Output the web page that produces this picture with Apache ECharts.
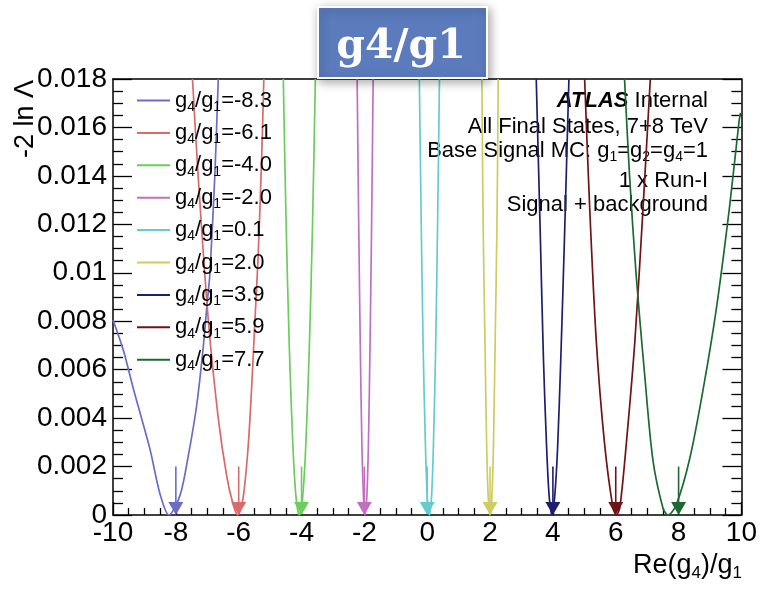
<!DOCTYPE html>
<html>
<head>
<meta charset="utf-8">
<script src="https://cdn.jsdelivr.net/npm/echarts@6/dist/echarts.min.js"></script>
<style>
  html, body { margin: 0; padding: 0; background: #fff; }
  #chart { width: 760px; height: 595px; }
</style>
</head>
<body>
<div id="chart"></div>
<script>
// Fitted g4/g1 values shown in the legend, and the injected (true) values marked by arrows
const fitLabels = ['-8.3', '-6.1', '-4.0', '-2.0', '0.1', '2.0', '3.9', '5.9', '7.7'];
const trueValues = [-8, -6, -4, -2, 0, 2, 4, 6, 8];
const arrowLength = 0.002;

// Likelihood scans: [Re(g4)/g1, -2 ln Λ]
const scanM83 = [[-10, 0.00805], [-9.67, 0.0068], [-9.35, 0.0052], [-8.82, 0.0027], [-8.51, 0.0009], [-8.22, 0],
  [-7.87, 0.0008], [-7.61, 0.0024], [-7.34, 0.0045], [-7.13, 0.0069], [-7.0, 0.0088], [-6.92, 0.0099],
  [-6.76, 0.014], [-6.65, 0.018]];
const scanM61 = [[-7.47, 0.018], [-7.29, 0.014], [-6.97, 0.0081], [-6.65, 0.004], [-6.38, 0.0016], [-6.17, 0.0004],
  [-6.03, 0], [-5.86, 0.0007], [-5.7, 0.0028], [-5.59, 0.0052], [-5.48, 0.0081], [-5.38, 0.0107],
  [-5.27, 0.0147], [-5.2, 0.018]];
const scanM40 = [[-4.58, 0.018], [-4.49, 0.012], [-4.39, 0.007], [-4.28, 0.003], [-4.18, 0.0008], [-4.07, 0],
  [-3.96, 0.0008], [-3.86, 0.003], [-3.75, 0.007], [-3.65, 0.012], [-3.56, 0.018]];
const scanM20 = [[-2.23, 0.018], [-2.18, 0.012], [-2.13, 0.007], [-2.08, 0.003], [-2.03, 0.0008], [-1.98, 0],
  [-1.92, 0.0008], [-1.87, 0.003], [-1.82, 0.007], [-1.77, 0.012], [-1.72, 0.018]];
const scanP01 = [[-0.25, 0.018], [-0.19, 0.012], [-0.13, 0.007], [-0.06, 0.003], [0.0, 0.0008], [0.07, 0],
  [0.14, 0.0008], [0.2, 0.003], [0.27, 0.007], [0.33, 0.012], [0.39, 0.018]];
const scanP20 = [[1.74, 0.018], [1.78, 0.012], [1.84, 0.007], [1.89, 0.003], [1.94, 0.0008], [2.0, 0],
  [2.06, 0.0008], [2.11, 0.003], [2.16, 0.007], [2.22, 0.012], [2.26, 0.018]];
const scanP39 = [[3.47, 0.018], [3.6, 0.0115], [3.7, 0.0064], [3.8, 0.0028], [3.88, 0.0008], [3.97, 0],
  [4.06, 0.0008], [4.15, 0.0028], [4.25, 0.0064], [4.37, 0.0115], [4.51, 0.018]];
const scanP59 = [[5.01, 0.018], [5.17, 0.0127], [5.38, 0.0072], [5.64, 0.003], [5.91, 0.0003], [6.02, 0],
  [6.13, 0.0003], [6.34, 0.003], [6.61, 0.0072], [6.87, 0.0127], [7.1, 0.018]];
const scanP77 = [[6.28, 0.018], [6.44, 0.014], [6.65, 0.0099], [6.92, 0.0058], [7.18, 0.0023], [7.5, 0.0003],
  [7.66, 0], [7.92, 0.0004], [8.35, 0.0023], [8.77, 0.0051], [9.2, 0.0085], [9.62, 0.0127],
  [9.92, 0.0162], [9.97, 0.0166]];

const scans = [scanM83, scanM61, scanM40, scanM20, scanP01, scanP20, scanP39, scanP59, scanP77];

// Line colours, one per scan
const palette = ['#6c6cc6', '#d86a6a', '#6ccc5e', '#c070c0', '#64cccc', '#cccc60', '#1e1e6e', '#6e1414', '#1c6a32'];

const FONT = '"Liberation Sans", Arial, Helvetica, sans-serif';
const HEAD_LEN = 13;   // arrow head length, px
const HEAD_HALF = 7.5; // arrow head half width, px

const names = fitLabels.map(v => 'g4/g1=' + v);

const lineSeries = scans.map((scan, i) => ({
  name: names[i],
  type: 'line',
  data: scan,
  smooth: 0.3,
  symbol: 'none',
  lineStyle: { color: palette[i], width: 1.7 },
  itemStyle: { color: palette[i] },
  z: 3
}));

const arrowSeries = trueValues.map((tv, i) => ({
  name: 'arrow' + i,
  type: 'custom',
  data: [[tv, arrowLength]],
  itemStyle: { color: palette[i] },
  clip: false,
  z: 4,
  renderItem: (params, api) => {
    const tip = api.coord([api.value(0), 0]);
    const tail = api.coord([api.value(0), api.value(1)]);
    const color = api.visual('color');
    return {
      type: 'group',
      children: [
        { type: 'line',
          shape: { x1: tail[0], y1: tail[1], x2: tip[0], y2: tip[1] - HEAD_LEN + 1 },
          style: { stroke: color, lineWidth: 1.6 } },
        { type: 'polygon',
          shape: { points: [[tip[0] - HEAD_HALF, tip[1] - HEAD_LEN], [tip[0] + HEAD_HALF, tip[1] - HEAD_LEN], [tip[0], tip[1]]] },
          style: { fill: color } }
      ]
    };
  }
}));

const subStyle = { fontSize: 14, fontFamily: FONT, color: '#000', padding: [13, 0, 0, 0], lineHeight: 22 };

const chart = echarts.init(document.getElementById('chart'), null, { renderer: 'canvas' });

chart.setOption({
  backgroundColor: '#fff',
  animation: false,
  grid: { left: 113, right: 18, top: 79, bottom: 80 },
  xAxis: [{
    type: 'value', min: -10, max: 10, interval: 2, position: 'bottom',
    axisLine: { show: true, onZero: false, lineStyle: { color: '#000', width: 1.5 } },
    axisTick: { show: true, inside: true, length: 13, lineStyle: { color: '#000', width: 1.3 } },
    minorTick: { show: true, splitNumber: 4, length: 7, lineStyle: { color: '#000', width: 1.3 } },
    splitLine: { show: false },
    axisLabel: { color: '#000', fontSize: 28, fontFamily: FONT, margin: 4 }
  }, {
    type: 'value', min: -10, max: 10, interval: 2, position: 'top',
    axisLine: { show: true, onZero: false, lineStyle: { color: '#000', width: 1.5 } },
    axisTick: { show: false }, axisLabel: { show: false }, splitLine: { show: false }
  }],
  yAxis: [{
    type: 'value', min: 0, max: 0.018, interval: 0.002, position: 'left',
    axisLine: { show: true, onZero: false, lineStyle: { color: '#000', width: 1.5 } },
    axisTick: { show: true, inside: true, length: 19, lineStyle: { color: '#000', width: 1.3 } },
    minorTick: { show: true, splitNumber: 4, length: 10, lineStyle: { color: '#000', width: 1.3 } },
    splitLine: { show: false },
    axisLabel: { color: '#000', fontSize: 28, fontFamily: FONT, margin: 6 }
  }, {
    type: 'value', min: 0, max: 0.018, interval: 0.002, position: 'right',
    axisLine: { show: true, onZero: false, lineStyle: { color: '#000', width: 1.5 } },
    axisTick: { show: true, inside: true, length: 19, lineStyle: { color: '#000', width: 1.3 } },
    minorTick: { show: true, splitNumber: 4, length: 10, lineStyle: { color: '#000', width: 1.3 } },
    splitLine: { show: false },
    axisLabel: { show: false }
  }],
  legend: {
    data: names.map(n => ({ name: n, icon: 'rect' })),
    orient: 'vertical',
    left: 137, top: 87,
    itemWidth: 33, itemHeight: 2, itemGap: 5.4,
    selectedMode: false,
    padding: 0,
    formatter: name => 'g{s|4}/g{s|1}=' + name.split('=')[1],
    textStyle: {
      fontSize: 22, fontFamily: FONT, color: '#000', lineHeight: 22,
      rich: { s: subStyle }
    }
  },
  graphic: [
    // header box
    { type: 'rect', left: 317, top: 6, z: 10,
      shape: { width: 169, height: 71 },
      style: { fill: '#5b7bbd', stroke: '#fff', lineWidth: 2,
        shadowBlur: 10, shadowColor: 'rgba(0,0,0,0.35)', shadowOffsetX: 2, shadowOffsetY: 3 } },
    { type: 'text', x: 401, y: 47, z: 11,
      style: { text: 'g4/g1', fill: '#fff', fontSize: 41, fontWeight: 'bold', fontFamily: '"DejaVu Serif", serif',
        align: 'center', verticalAlign: 'middle' } },
    // axis titles
    { type: 'text', x: 26, y: 80, rotation: Math.PI / 2,
      style: { text: '-2 ln Λ', fill: '#000', fontSize: 27, fontFamily: FONT, align: 'right', verticalAlign: 'middle' } },
    { type: 'text', x: 742, y: 566,
      style: { text: 'Re(g{s|4})/g{s|1}', fill: '#000', fontSize: 27, fontFamily: FONT, align: 'right', verticalAlign: 'middle',
        rich: { s: { fontSize: 17, fontFamily: FONT, fill: '#000', padding: [14, 0, 0, 0] } } } },
    // ATLAS info block
    { type: 'text', x: 708, y: 101,
      style: { text: '{b|ATLAS} Internal', fill: '#000', fontSize: 22, fontFamily: FONT, align: 'right', verticalAlign: 'middle',
        rich: { b: { fontSize: 22, fontFamily: FONT, fontWeight: 'bold', fontStyle: 'italic', fill: '#000' } } } },
    { type: 'text', x: 708, y: 127,
      style: { text: 'All Final States, 7+8 TeV', fill: '#000', fontSize: 22, fontFamily: FONT, align: 'right', verticalAlign: 'middle' } },
    { type: 'text', x: 708, y: 151,
      style: { text: 'Base Signal MC: g{s|1}=g{s|2}=g{s|4}=1', fill: '#000', fontSize: 22, fontFamily: FONT, align: 'right', verticalAlign: 'middle',
        rich: { s: { fontSize: 14, fontFamily: FONT, fill: '#000', padding: [12, 0, 0, 0] } } } },
    { type: 'text', x: 708, y: 181,
      style: { text: '1 x Run-I', fill: '#000', fontSize: 22, fontFamily: FONT, align: 'right', verticalAlign: 'middle' } },
    { type: 'text', x: 708, y: 205,
      style: { text: 'Signal + background', fill: '#000', fontSize: 22, fontFamily: FONT, align: 'right', verticalAlign: 'middle' } }
  ],
  series: lineSeries.concat(arrowSeries)
});
</script>
</body>
</html>
